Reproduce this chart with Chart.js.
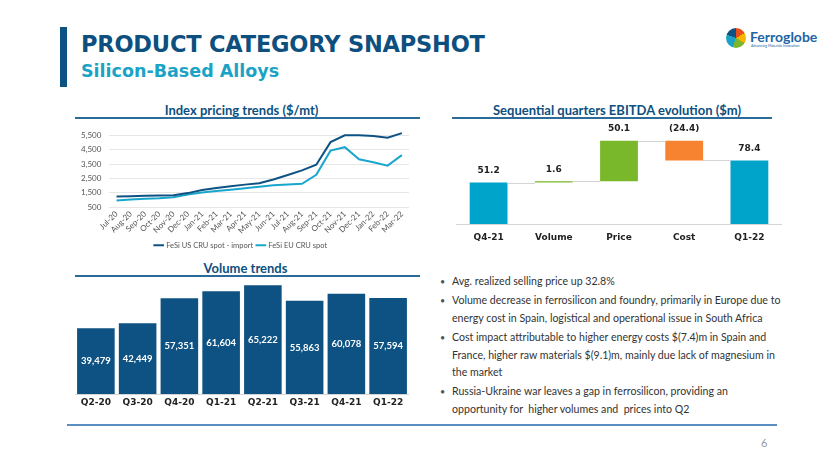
<!DOCTYPE html>
<html>
<head>
<meta charset="utf-8">
<script src="https://cdn.jsdelivr.net/npm/chart.js@4.4.0/dist/chart.umd.min.js"></script>
<style>
  body { margin:0; width:830px; height:467px; background:#fff; position:relative; overflow:hidden; font-family:"Lato", sans-serif; }
  .abs { position:absolute; }
  .bar { left:60px; top:27px; width:7px; height:60px; background:#0d5282; }
  .h1 { left:81px; top:31px; font:bold 22.5px "DejaVu Sans", sans-serif; color:#0d4f7e; letter-spacing:-0.2px; white-space:nowrap; }
  .h2 { left:81px; top:61px; font:bold 17.5px "DejaVu Sans", sans-serif; color:#1ba3c6; white-space:nowrap; }
  .sec { font:bold 13px "Lato", sans-serif; color:#0d4f7e; text-align:center; white-space:nowrap; }
  .rule { height:2px; background:#2c6a9a; }
  ul { margin:0; padding:0; list-style:none; }
  li { position:relative; padding-left:12px; font:10.6px/17.4px "Lato", sans-serif; color:#333; white-space:nowrap; margin-bottom:2px; }
  li:before { content:"•"; position:absolute; left:0; top:0; color:#555; font-size:9px; }
  canvas { position:absolute; }
</style>
</head>
<body>
<div class="abs bar"></div>
<div class="abs h1">PRODUCT CATEGORY SNAPSHOT</div>
<div class="abs h2">Silicon-Based Alloys</div>

<div class="abs" style="left:726px;top:28px;width:20px;height:20px;border-radius:50%;background:conic-gradient(#e94e1b 0 60deg,#f7b500 60deg 120deg,#7ab62e 120deg 200deg,#1ba3c6 200deg 290deg,#0d5282 290deg 360deg);"></div>
<div class="abs" style="left:750px;top:28px;font:bold 14px 'Lato',sans-serif;color:#2064a6;">Ferroglobe</div>
<div class="abs" style="left:751px;top:44px;font:3.5px 'Lato',sans-serif;color:#2064a6;">Advancing Materials Innovation</div>

<div class="abs sec" style="left:69px;top:102px;width:345px;">Index pricing trends ($/mt)</div>
<div class="abs rule" style="left:75px;top:117px;width:345px;"></div>
<div class="abs sec" style="left:452px;top:102px;width:330px;">Sequential quarters EBITDA evolution ($m)</div>
<div class="abs rule" style="left:452px;top:117px;width:320px;"></div>
<div class="abs sec" style="left:73px;top:260px;width:345px;">Volume trends</div>
<div class="abs rule" style="left:75px;top:275px;width:345px;"></div>

<canvas id="line" style="left:73px;top:121px;" width="342" height="138"></canvas>
<canvas id="wf" style="left:456px;top:117px;" width="326" height="126"></canvas>
<canvas id="vol" style="left:75px;top:279px;" width="334" height="132"></canvas>

<ul class="abs" style="left:440px;top:273px;">
  <li>Avg. realized selling price up 32.8%</li>
  <li>Volume decrease in ferrosilicon and foundry, primarily in Europe due to<br>energy cost in Spain, logistical and operational issue in South Africa</li>
  <li>Cost impact attributable to higher energy costs $(7.4)m in Spain and<br>France, higher raw materials $(9.1)m, mainly due lack of magnesium in<br>the market</li>
  <li>Russia-Ukraine war leaves a gap in ferrosilicon, providing an<br>opportunity for &nbsp;higher volumes and &nbsp;prices into Q2</li>
</ul>

<div class="abs" style="left:67px;top:424px;width:710px;height:1.5px;background:#5b8fc4;"></div>
<div class="abs" style="left:761px;top:436px;font:11px 'Lato',sans-serif;color:#999;">6</div>

<script>
const months = ['Jul-20','Aug-20','Sep-20','Oct-20','Nov-20','Dec-20','Jan-21','Feb-21','Mar-21','Apr-21','May-21','Jun-21','Jul-21','Aug-21','Sep-21','Oct-21','Nov-21','Dec-21','Jan-22','Feb-22','Mar-22'];
const usSpot = [1250,1270,1290,1310,1330,1480,1700,1830,1950,2070,2170,2430,2740,3060,3450,5020,5500,5500,5440,5330,5650];
const euSpot = [960,1030,1090,1130,1200,1380,1520,1620,1720,1820,1920,2020,2080,2130,2750,4430,4670,3830,3630,3390,4120];
const priceTicks = [500,1500,2500,3500,4500,5500];

const wfLabels = ['Q4-21','Volume','Price','Cost','Q1-22'];
const wfValues = [51.2, 1.6, 50.1, -24.4, 78.4];
const wfText = ['51.2','1.6','50.1','(24.4)','78.4'];

const quarters = ['Q2-20','Q3-20','Q4-20','Q1-21','Q2-21','Q3-21','Q4-21','Q1-22'];
const volumes = [39479,42449,57351,61604,65222,55863,60078,57594];

const darkBlue = '#0d5282', cyan = '#1aa6cc';
Chart.defaults.font.family = 'Lato, sans-serif';
Chart.defaults.animation = false;

new Chart(document.getElementById('line'), {
  type: 'line',
  data: {
    labels: months,
    datasets: [
      { label: 'FeSi US CRU spot - import', data: usSpot, borderColor: darkBlue, backgroundColor: darkBlue, borderWidth: 2, pointRadius: 0, tension: 0, clip: false },
      { label: 'FeSi EU CRU spot', data: euSpot, borderColor: cyan, backgroundColor: cyan, borderWidth: 2, pointRadius: 0, tension: 0, clip: false }
    ]
  },
  options: {
    responsive: false,
    layout: { padding: { left: 0, right: 6, top: 2, bottom: 0 } },
    plugins: {
      legend: { position: 'bottom', labels: { usePointStyle: true, pointStyle: 'line', boxWidth: 22, font: { size: 7.5 }, color: '#555', padding: 4 } },
      tooltip: { enabled: false }
    },
    scales: {
      x: { offset: true, grid: { display: false, drawTicks: false }, border: { display: false },
           ticks: { minRotation: 45, maxRotation: 45, autoSkip: false, font: { size: 8 }, color: '#555', padding: 2 } },
      y: { min: 500, max: 5600, border: { display: false },
           grid: { color: '#e6e6e6', drawTicks: false },
           afterBuildTicks: (axis) => { axis.ticks = priceTicks.map(v => ({ value: v })); },
           ticks: { font: { size: 8 }, color: '#555', padding: 8, callback: v => v.toLocaleString('en-US') } }
    }
  }
});

// waterfall: floating bars from running total
let run = 0;
const wfRanges = wfValues.map((v, i) => {
  if (i === 0 || i === wfValues.length - 1) { run = v; return [0, v]; }
  const r = [run, run + v]; run += v; return r;
});
const wfColors = ['#00a3c9', '#78b82a', '#78b82a', '#f7822f', '#00a3c9'];

const wfPlugin = {
  id: 'wfExtras',
  afterDatasetsDraw(chart) {
    const ctx = chart.ctx, meta = chart.getDatasetMeta(0), ys = chart.scales.y;
    ctx.save();
    ctx.strokeStyle = '#d4d4d4'; ctx.lineWidth = 1;
    for (let i = 0; i < meta.data.length - 1; i++) {
      const a = meta.data[i], b = meta.data[i + 1];
      const y = Math.round(ys.getPixelForValue(wfRanges[i][1])) + 0.5;
      ctx.beginPath(); ctx.moveTo(a.x + a.width / 2, y); ctx.lineTo(b.x - b.width / 2, y); ctx.stroke();
    }
    const y0 = Math.round(ys.getPixelForValue(0)) + 0.5;
    ctx.beginPath(); ctx.moveTo(chart.chartArea.left, y0); ctx.lineTo(chart.chartArea.right, y0); ctx.stroke();
    ctx.fillStyle = '#222'; ctx.font = 'bold 9px "DejaVu Sans", sans-serif'; ctx.textAlign = 'center'; ctx.textBaseline = 'bottom';
    meta.data.forEach((bar, i) => {
      const top = Math.max(wfRanges[i][0], wfRanges[i][1]);
      ctx.fillText(wfText[i], bar.x, ys.getPixelForValue(top) - 7);
    });
    ctx.restore();
  }
};

new Chart(document.getElementById('wf'), {
  type: 'bar',
  data: { labels: wfLabels, datasets: [{ data: wfRanges, backgroundColor: wfColors, borderSkipped: false, barPercentage: 0.58, categoryPercentage: 1 }] },
  options: {
    responsive: false,
    layout: { padding: 0 },
    plugins: { legend: { display: false }, tooltip: { enabled: false } },
    scales: {
      x: { grid: { display: false }, border: { display: false },
           ticks: { font: { size: 9, weight: 'bold', family: '"DejaVu Sans", sans-serif' }, color: '#222', padding: 0 } },
      y: { display: false, min: 0, max: 132 }
    }
  },
  plugins: [wfPlugin]
});

const volPlugin = {
  id: 'volExtras',
  afterDatasetsDraw(chart) {
    const ctx = chart.ctx, meta = chart.getDatasetMeta(0), ys = chart.scales.y;
    ctx.save();
    const y0 = Math.round(ys.getPixelForValue(0)) + 0.5;
    ctx.strokeStyle = '#d4d4d4'; ctx.lineWidth = 1;
    ctx.beginPath(); ctx.moveTo(chart.chartArea.left, y0); ctx.lineTo(chart.chartArea.right, y0); ctx.stroke();
    ctx.fillStyle = '#fff'; ctx.font = 'bold 9.5px "Lato", sans-serif'; ctx.textAlign = 'center'; ctx.textBaseline = 'middle';
    meta.data.forEach((bar, i) => {
      ctx.fillText(volumes[i].toLocaleString('en-US'), bar.x, (bar.y + bar.base) / 2);
    });
    ctx.restore();
  }
};

new Chart(document.getElementById('vol'), {
  type: 'bar',
  data: { labels: quarters, datasets: [{ data: volumes, backgroundColor: darkBlue, barPercentage: 0.9, categoryPercentage: 1 }] },
  options: {
    responsive: false,
    layout: { padding: 0 },
    plugins: { legend: { display: false }, tooltip: { enabled: false } },
    scales: {
      x: { grid: { display: false, drawTicks: false }, border: { display: false },
           ticks: { font: { size: 9, weight: 'bold', family: '"DejaVu Sans", sans-serif' }, color: '#222', padding: 3 } },
      y: { display: false, min: 0, max: 68900 }
    }
  },
  plugins: [volPlugin]
});
</script>
</body>
</html>
